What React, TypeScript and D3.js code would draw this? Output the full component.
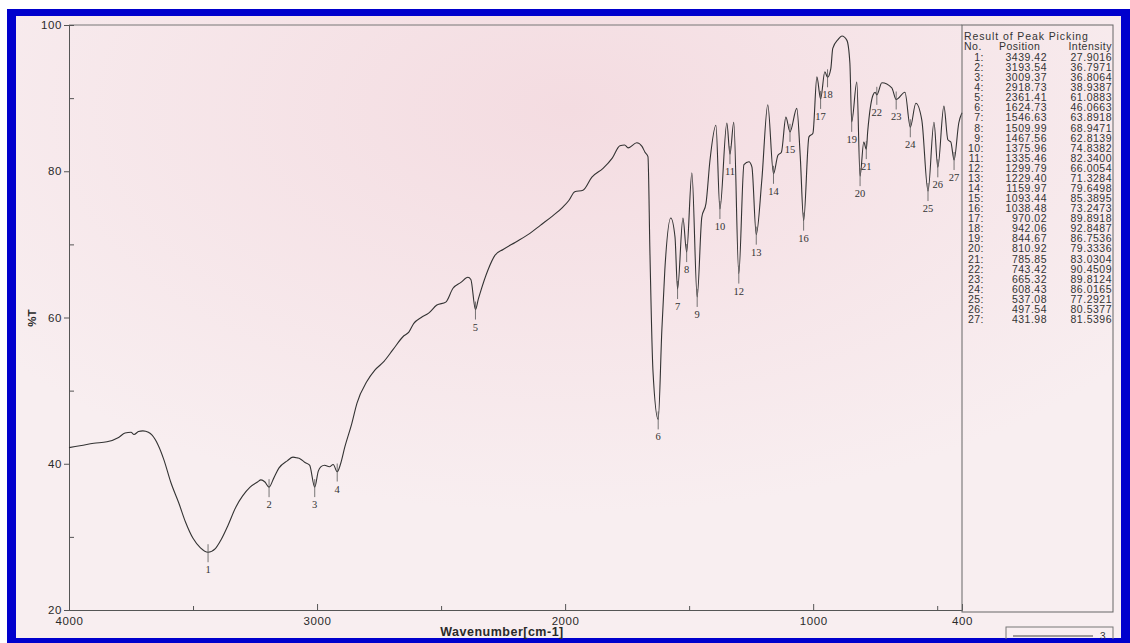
import { useRef, useEffect } from 'react';
import * as d3 from 'd3';

// IR spectrum trace (wavenumber cm-1, %T)
const wavenumbers = [
    4000, 3950, 3900, 3847, 3800, 3774, 3750, 3738, 3720, 3702, 3680, 3665, 3640, 3617, 3590, 3557, 3530, 3500, 3470,
    3439.42, 3410, 3387, 3360, 3327, 3300, 3270, 3240, 3226, 3210, 3193.54, 3175, 3154, 3120, 3097, 3080, 3069, 3050,
    3030, 3009.37, 2995, 2984, 2970, 2950, 2935, 2918.73, 2905, 2888, 2860, 2839, 2800, 2767, 2730, 2694, 2650, 2630,
    2610, 2580, 2550, 2517, 2481, 2452, 2420, 2392, 2380, 2361.41, 2350, 2343, 2311, 2283, 2250, 2200, 2142, 2100, 2050,
    2009, 1985, 1961, 1928, 1892, 1847, 1810, 1779, 1760, 1746, 1711, 1690, 1678, 1666, 1658, 1646, 1624.73, 1610, 1598,
    1574, 1557, 1546.63, 1525, 1509.99, 1489, 1467.56, 1449, 1432, 1416, 1392, 1375.96, 1348, 1335.46, 1320, 1299.79,
    1279, 1259, 1247, 1229.4, 1207, 1183, 1159.97, 1142, 1128, 1110, 1093.44, 1066, 1052, 1038.48, 1017, 1001, 985,
    970.02, 953, 942.06, 929, 921, 900, 884, 864, 852, 844.67, 824, 810.92, 796, 785.85, 780, 759, 750, 743.42, 723,
    683, 665.32, 630, 608.43, 586, 562, 537.08, 513, 497.54, 473, 457, 445, 431.98, 413, 400,
];
const transmittance = [
    42.2, 42.5, 42.8, 43.0, 43.6, 44.2, 44.3, 44.0, 44.4, 44.5, 44.3, 43.9, 42.5, 40.5, 37.5, 34.6, 32.0, 29.8, 28.5,
    27.9, 28.4, 29.6, 31.5, 34.1, 35.6, 36.8, 37.5, 37.8, 37.5, 36.8, 38.0, 39.4, 40.4, 40.9, 40.8, 40.7, 40.2,
    39.8, 36.8, 39.0, 39.6, 39.8, 39.6, 39.9, 38.9, 40.0, 42.3, 45.5, 48.3, 51.2, 52.8, 54.0, 55.6, 57.5, 58.0,
    59.2, 60.0, 60.6, 61.7, 62.1, 64.0, 64.8, 65.5, 65.2, 61.09, 62.5, 63.3, 66.5, 68.5, 69.3, 70.3, 71.5, 72.6, 73.9,
    75.1, 76.0, 77.2, 77.4, 79.2, 80.4, 81.8, 83.5, 83.6, 83.2, 83.9, 83.4, 82.6, 82.0, 68.8, 52.8, 46.07, 58.3, 66.5,
    73.6, 71.0, 63.89, 73.6, 68.95, 79.8, 62.81, 73.7, 75.6, 81.5, 86.3, 74.84, 86.6, 82.34, 86.7, 66.01,
    80.9, 81.3, 80.6, 71.33, 78.8, 89.1, 79.65, 82.2, 82.6, 87.4, 85.39, 88.6, 82.0, 73.25, 84.7, 85.2, 92.9,
    89.89, 93.6, 92.85, 94.0, 96.8, 98.0, 98.5, 97.9, 94.8, 86.75, 92.2, 79.33, 84.0, 83.03, 85.5, 90.4, 90.8, 90.45, 92.1,
    91.4, 89.81, 90.8, 86.02, 89.3, 87.0, 77.29, 86.7, 80.54, 88.9, 84.3, 84.0, 81.54, 86.6, 88.0,
];

// Result of Peak Picking
const peakNo = [1, 2, 3, 4, 5, 6, 7, 8, 9, 10, 11, 12, 13, 14, 15, 16, 17, 18, 19, 20, 21, 22, 23, 24, 25, 26, 27];
const peakPosition = [
    3439.42, 3193.54, 3009.37, 2918.73, 2361.41, 1624.73, 1546.63, 1509.99, 1467.56, 1375.96, 1335.46, 1299.79, 1229.40,
    1159.97, 1093.44, 1038.48, 970.02, 942.06, 844.67, 810.92, 785.85, 743.42, 665.32, 608.43, 537.08, 497.54, 431.98,
];
const peakIntensity = [
    27.9016, 36.7971, 36.8064, 38.9387, 61.0883, 46.0663, 63.8918, 68.9471, 62.8139, 74.8382, 82.3400, 66.0054, 71.3284,
    79.6498, 85.3895, 73.2473, 89.8918, 92.8487, 86.7536, 79.3336, 83.0304, 90.4509, 89.8124, 86.0165, 77.2921, 80.5377,
    81.5396,
];

const xMajorTicks = [4000, 3000, 2000, 1000, 400];
const xMinorTicks = [3500, 2500, 1500, 500];
const yMajorTicks = [20, 40, 60, 80, 100];
const yMinorTicks = [30, 50, 70, 90];

const W = 1130;
const H = 643;

export default function App() {
    const svgRef = useRef<SVGSVGElement>(null);

    useEffect(() => {
        if (!svgRef.current) return;
        const svg = d3.select(svgRef.current);
        svg.selectAll('*').remove();

        const left = 69, right = 962, top = 25, bottom = 610;
        const sans = 'Liberation Sans, Arial, sans-serif';
        const serif = 'Liberation Serif, Times New Roman, serif';
        const ink = '#2a2a2a';

        const x = d3.scaleLinear().domain([4000, 400]).range([left, right]);
        const y = d3.scaleLinear().domain([20, 100]).range([bottom, top]);

        // paper + blue frame
        const defs = svg.append('defs');
        const grad = defs.append('radialGradient').attr('id', 'paper')
            .attr('cx', '0.5').attr('cy', '0.15').attr('r', '0.65');
        grad.append('stop').attr('offset', '0%').attr('stop-color', '#f4dce1');
        grad.append('stop').attr('offset', '100%').attr('stop-color', '#f8eef0');

        svg.append('rect').attr('width', W).attr('height', H).attr('fill', '#ffffff');
        svg.append('rect').attr('x', 7).attr('y', 9).attr('width', W - 7).attr('height', H - 9).attr('fill', '#0000cd');
        svg.append('rect').attr('x', 16).attr('y', 16).attr('width', 1105).attr('height', 622).attr('fill', 'url(#paper)');

        // frame lines
        svg.append('line').attr('x1', left).attr('x2', right).attr('y1', top).attr('y2', top)
            .attr('stroke', '#777').attr('stroke-width', 1);

        // y axis
        const yAxis = svg.append('g').attr('transform', `translate(${left},0)`)
            .call(d3.axisLeft(y).tickValues(yMajorTicks).tickSize(5).tickPadding(2).tickFormat(d3.format('d')));
        yAxis.selectAll('text').attr('font-family', sans).attr('font-size', '11.5px').attr('fill', ink)
            .attr('letter-spacing', '0.6px');
        svg.append('g').attr('transform', `translate(${left},0)`)
            .call(d3.axisRight(y).tickValues(yMinorTicks).tickSize(5).tickFormat(() => ''));

        // x axis
        const xAxis = svg.append('g').attr('transform', `translate(0,${bottom})`)
            .call(d3.axisBottom(x).tickValues(xMajorTicks).tickSizeInner(-6).tickSizeOuter(0).tickPadding(5).tickFormat(d3.format('d')));
        xAxis.selectAll('text').attr('font-family', sans).attr('font-size', '11.5px').attr('fill', ink)
            .attr('letter-spacing', '0.6px').attr('dy', '0.9em');
        svg.append('g').attr('transform', `translate(0,${bottom})`)
            .call(d3.axisBottom(x).tickValues(xMinorTicks).tickSizeInner(-4).tickSizeOuter(0).tickFormat(() => ''));

        svg.selectAll('.domain').attr('stroke', '#555');
        svg.selectAll('.tick line').attr('stroke', '#555');

        // axis titles
        svg.append('text')
            .attr('transform', 'translate(36,318) rotate(-90)')
            .attr('text-anchor', 'middle')
            .attr('font-family', sans).attr('font-size', '11.5px').attr('font-weight', 'bold').attr('fill', ink)
            .text('%T');
        svg.append('text')
            .attr('x', 502).attr('y', 636)
            .attr('text-anchor', 'middle')
            .attr('font-family', sans).attr('font-size', '12.5px').attr('font-weight', 'bold').attr('fill', ink)
            .attr('letter-spacing', '0.5px')
            .text('Wavenumber[cm-1]');

        // spectrum
        const pts: [number, number][] = wavenumbers.map((w, i) => [w, transmittance[i]]);
        const line = d3.line<[number, number]>()
            .x(d => x(d[0]))
            .y(d => y(d[1]))
            .curve(d3.curveMonotoneX);
        svg.append('path').attr('d', line(pts) ?? '')
            .attr('fill', 'none').attr('stroke', '#333').attr('stroke-width', 1.1);

        // peak markers
        const peaks = svg.append('g');
        peakNo.forEach((n, i) => {
            const px = x(peakPosition[i]);
            const py = y(peakIntensity[i]);
            peaks.append('line').attr('x1', px).attr('x2', px).attr('y1', py - 8).attr('y2', py + 10)
                .attr('stroke', '#555').attr('stroke-width', 0.8);
            peaks.append('text').attr('x', px).attr('y', py + 21)
                .attr('text-anchor', 'middle')
                .attr('font-family', serif).attr('font-size', '10.5px').attr('fill', '#333')
                .text(n);
        });

        // peak table
        const tx = right, tw = 151;
        svg.append('rect').attr('x', tx).attr('y', top).attr('width', tw).attr('height', 587)
            .attr('fill', 'none').attr('stroke', '#666').attr('stroke-width', 1);
        const table = svg.append('g').attr('font-family', sans).attr('font-size', '10.5px').attr('fill', '#333')
            .attr('letter-spacing', '0.5px');
        table.append('text').attr('x', tx + 2).attr('y', 40).attr('letter-spacing', '0.9px').text('Result of Peak Picking');
        table.append('text').attr('x', tx + 2).attr('y', 50).text('No.');
        table.append('text').attr('x', tx + 37).attr('y', 50).text('Position');
        table.append('text').attr('x', tx + 150).attr('y', 50).attr('text-anchor', 'end').text('Intensity');
        const rowY = d3.scaleLinear().domain([1, 27]).range([61, 323]);
        peakNo.forEach((n, i) => {
            const yy = rowY(n);
            table.append('text').attr('x', tx + 22).attr('y', yy).attr('text-anchor', 'end').text(`${n}:`);
            table.append('text').attr('x', tx + 85).attr('y', yy).attr('text-anchor', 'end').text(peakPosition[i].toFixed(2));
            table.append('text').attr('x', tx + 150).attr('y', yy).attr('text-anchor', 'end').text(peakIntensity[i].toFixed(4));
        });

        // small legend box bottom right
        svg.append('rect').attr('x', 1006).attr('y', 627).attr('width', 107).attr('height', 20)
            .attr('fill', 'none').attr('stroke', '#777');
        svg.append('line').attr('x1', 1013).attr('x2', 1093).attr('y1', 636).attr('y2', 636)
            .attr('stroke', '#444').attr('stroke-width', 1);
        svg.append('text').attr('x', 1100).attr('y', 640).attr('font-family', sans).attr('font-size', '10px')
            .attr('fill', '#333').text('3');

        // bottom blue strip on top of the box
        svg.append('rect').attr('x', 7).attr('y', 639).attr('width', W - 7).attr('height', 4).attr('fill', '#0000cd');
    }, []);

    return (
        <svg ref={svgRef} width={W} height={H}
            style={{ position: 'absolute', left: 0, top: 0, display: 'block' }} />
    );
}
